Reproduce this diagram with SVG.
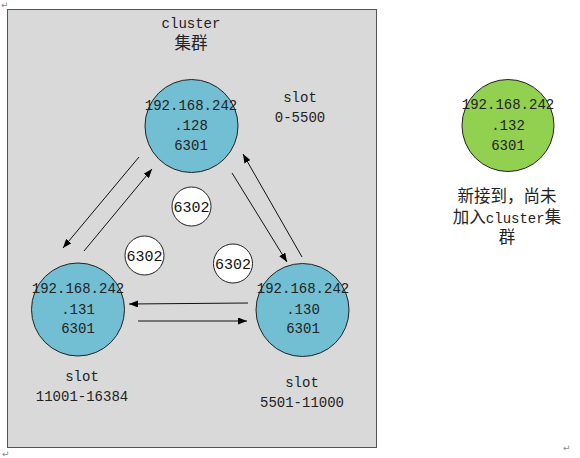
<svg xmlns="http://www.w3.org/2000/svg" width="580" height="458" viewBox="0 0 580 458">
<defs>
<marker id="ah" markerWidth="9" markerHeight="7" refX="9" refY="3.5" orient="auto" markerUnits="userSpaceOnUse">
<path d="M0,0 L9,3.5 L0,7 Z" fill="#000"/>
</marker>
<style>
.t{font-family:"Liberation Mono","Noto Sans CJK SC",monospace;font-size:14px;fill:#222;text-anchor:middle}
.c{font-size:16.5px;font-family:"Noto Sans CJK SC",sans-serif}
.p{font-family:"Liberation Mono",monospace;font-size:15px;fill:#111;text-anchor:middle}
.node{fill:#72bfd4;stroke:#222;stroke-width:1}
.port{fill:#fff;stroke:#222;stroke-width:1}
.cn{stroke:#111;stroke-width:1;fill:none;marker-end:url(#ah)}
.mark{font-family:"DejaVu Sans",sans-serif;font-size:9px;fill:#888}
</style>
</defs>
<rect width="580" height="458" fill="#fff"/>
<text class="mark" x="1" y="8">↵</text>
<text class="mark" x="2" y="457">↵</text>
<text class="mark" x="563" y="451">↵</text>

<g id="cluster">
<rect x="7.5" y="9.5" width="369" height="438" fill="#d9d9d9" stroke="#555" stroke-width="1"/>
<text class="t" x="191" y="28">cluster</text>
<text class="t" x="191" y="49"><tspan class="c">集群</tspan></text>
</g>

<g id="connectors">
<line class="cn" x1="139" y1="157" x2="63" y2="248"/>
<line class="cn" x1="84" y1="251" x2="152" y2="169"/>
<line class="cn" x1="232" y1="173" x2="287" y2="262"/>
<line class="cn" x1="302" y1="257" x2="243" y2="154"/>
<line class="cn" x1="248" y1="303" x2="129" y2="304" stroke-width="1.4"/>
<line class="cn" x1="138" y1="321" x2="247" y2="321" stroke-width="1.4"/>
</g>

<g id="node128">
<circle class="node" cx="191.5" cy="126" r="46.5"/>
<text class="t" x="191" y="110">192.168.242</text>
<text class="t" x="191" y="130">.128</text>
<text class="t" x="191" y="150">6301</text>
</g>
<g id="slot128">
<text class="t" x="300" y="102">slot</text>
<text class="t" x="300" y="122">0-5500</text>
</g>

<g id="node131">
<circle class="node" cx="78" cy="309.5" r="46.5"/>
<text class="t" x="78" y="293">192.168.242</text>
<text class="t" x="78" y="314">.131</text>
<text class="t" x="78" y="333">6301</text>
</g>
<g id="slot131">
<text class="t" x="82" y="381">slot</text>
<text class="t" x="82" y="401">11001-16384</text>
</g>

<g id="node130">
<circle class="node" cx="302.5" cy="310" r="46.5"/>
<text class="t" x="303" y="293">192.168.242</text>
<text class="t" x="303" y="314">.130</text>
<text class="t" x="303" y="333">6301</text>
</g>
<g id="slot130">
<text class="t" x="302" y="387">slot</text>
<text class="t" x="302" y="407">5501-11000</text>
</g>

<g id="port-top">
<circle class="port" cx="191.5" cy="206.5" r="19.5"/>
<text class="p" x="191.5" y="212">6302</text>
</g>
<g id="port-left">
<circle class="port" cx="144.5" cy="255.5" r="19.5"/>
<text class="p" x="144.5" y="261">6302</text>
</g>
<g id="port-right">
<circle class="port" cx="233" cy="263.5" r="19.5"/>
<text class="p" x="233" y="269">6302</text>
</g>

<g id="node132">
<circle cx="508" cy="125.5" r="46" fill="#92d050" stroke="#222" stroke-width="1"/>
<text class="t" x="508" y="109">192.168.242</text>
<text class="t" x="508" y="130">.132</text>
<text class="t" x="508" y="150">6301</text>
<text class="t" x="507" y="202"><tspan class="c">新接到，尚未</tspan></text>
<text class="t" x="507" y="223"><tspan class="c">加入</tspan>cluster<tspan class="c">集</tspan></text>
<text class="t" x="507" y="243"><tspan class="c">群</tspan></text>
</g>
</svg>
